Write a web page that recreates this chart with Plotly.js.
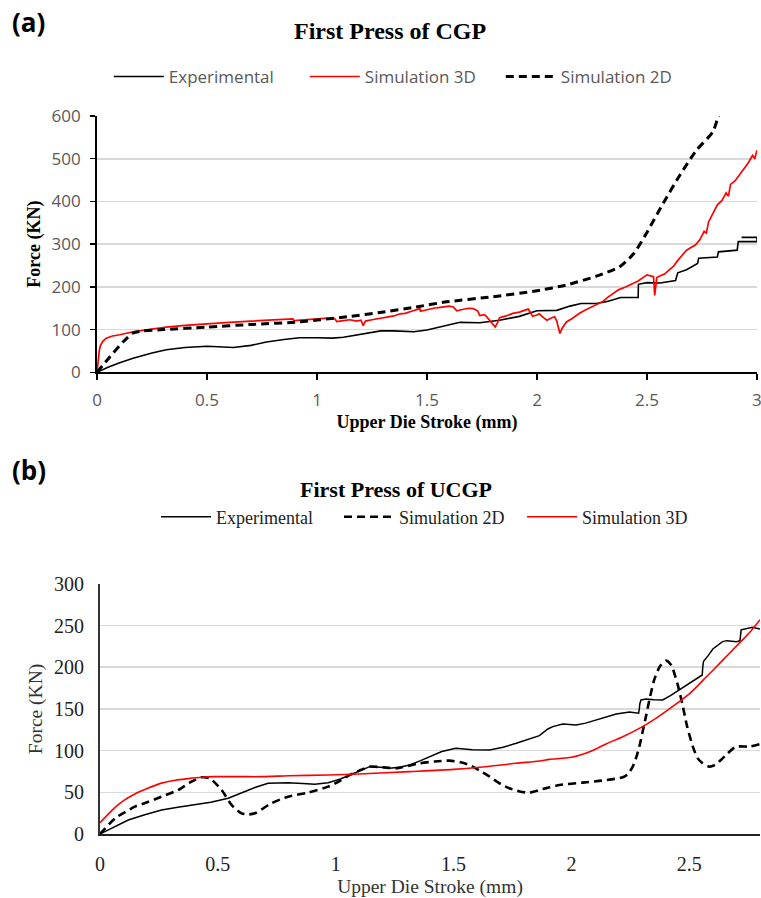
<!DOCTYPE html>
<html>
<head>
<meta charset="utf-8">
<script src="https://cdn.plot.ly/plotly-3.0.1.min.js"></script>
<style>
html,body{margin:0;padding:0;background:#fff;}
#chart{width:761px;height:898px;}
</style>
</head>
<body>
<div id="chart"></div>
<script>
// ---------- (a) First Press of CGP ----------
const aExpX = [0,0.05,0.1,0.164,0.25,0.315,0.4,0.5,0.55,0.62,0.7,0.77,0.85,0.92,1.0,1.07,1.12,1.2,1.29,1.35,1.44,1.5,1.57,1.65,1.74,1.83,1.92,2.0,2.09,2.15,2.2,2.27,2.32,2.38,2.46,2.461,2.5,2.56,2.63,2.64,2.68,2.73,2.735,2.82,2.825,2.91,2.915,3.0,3.0,2.93];
const aExpY = [0,12,22,33,45,53,58,61,60,58,63,71,77,81,81,80,82,89,97,97,95,99,108,117,116,122,131,144,145,155,161,161,166,175,175,206,210,209,215,233,240,255,267,270,282,286,306,306,316,316];

const aSim3dX = [0,0.005,0.01,0.015,0.025,0.042,0.07,0.103,0.164,0.25,0.315,0.4,0.5,0.6,0.7,0.77,0.85,0.89,0.895,0.95,1.0,1.05,1.08,1.09,1.12,1.15,1.18,1.2,1.21,1.22,1.25,1.286,1.32,1.35,1.377,1.4,1.43,1.468,1.47,1.5,1.53,1.56,1.6,1.62,1.635,1.66,1.69,1.71,1.73,1.74,1.76,1.77,1.79,1.81,1.82,1.83,1.86,1.89,1.92,1.94,1.96,1.97,1.98,2.0,2.01,2.03,2.045,2.065,2.08,2.09,2.104,2.115,2.134,2.16,2.18,2.195,2.22,2.24,2.27,2.3,2.32,2.346,2.37,2.4,2.42,2.44,2.46,2.5,2.52,2.53,2.535,2.54,2.545,2.56,2.58,2.6,2.62,2.64,2.66,2.68,2.7,2.72,2.74,2.76,2.77,2.78,2.8,2.82,2.84,2.86,2.87,2.88,2.9,2.92,2.94,2.96,2.98,2.99,3.0];
const aSim3dY = [0,30,50,62,72,80,85,88,95,101,106,110,114,117,120,122,124,125,121,123,125,127,126,119,121,123,120,122,109,120,123,126,128,132,137,138,143,149,143,147,150,152,155,153,144,147,150,149,144,133,135,131,118,106,115,128,132,138,141,144,148,140,131,134,137,128,122,127,130,120,91,104,118,126,134,139,146,151,157,166,175,185,193,199,204,210,214,228,226,224,180,205,222,226,230,239,248,262,273,286,292,298,310,330,326,352,372,392,402,420,412,440,448,462,478,490,508,500,520];

const aSim2dX = [0,0.058,0.118,0.164,0.21,0.3,0.5,0.7,0.92,1.014,1.15,1.286,1.45,1.59,1.8,2.0,2.13,2.27,2.376,2.44,2.497,2.574,2.65,2.725,2.8,2.825,2.85];
const aSim2dY = [0,36,71,92,97,100,106,112,118,123,131,140,153,165,177,191,204,225,247,278,325,396,462,520,563,600,625];

// ---------- (b) First Press of UCGP ----------
const bExpX = [0,0.06,0.12,0.19,0.261,0.33,0.403,0.47,0.544,0.615,0.66,0.713,0.798,0.86,0.911,0.968,1.02,1.06,1.1,1.144,1.19,1.229,1.27,1.314,1.36,1.398,1.45,1.51,1.58,1.653,1.71,1.766,1.82,1.864,1.9,1.921,1.963,2.02,2.06,2.105,2.15,2.19,2.246,2.285,2.288,2.29,2.295,2.316,2.35,2.387,2.42,2.458,2.51,2.555,2.557,2.56,2.58,2.6,2.641,2.66,2.7,2.715,2.72,2.768,2.8];
const bExpY = [0,8,16.8,23,28.8,32,34.8,38,42.8,50.8,56,60.8,61.6,60.5,59.6,61.6,66,70.8,76,80.8,80,78.8,80,82.8,88,92.8,99,102.8,101,100.8,104,108.8,114,118,126,128.8,132,130.8,133,136.8,141,144,146.4,145,150,156,160.8,162,161,160.8,166,172.8,182,190.8,200,206.8,214,222,230.8,232,230.8,232,245,248,246];

const bSim2dX = [0,0.064,0.148,0.2,0.261,0.332,0.388,0.431,0.466,0.516,0.558,0.6,0.63,0.657,0.727,0.798,0.883,0.968,1.02,1.06,1.1,1.144,1.2,1.257,1.356,1.42,1.483,1.53,1.568,1.61,1.653,1.7,1.737,1.78,1.822,1.864,1.907,1.95,2.048,2.13,2.218,2.24,2.26,2.275,2.288,2.3,2.316,2.33,2.351,2.375,2.401,2.42,2.43,2.45,2.47,2.49,2.515,2.535,2.557,2.585,2.61,2.634,2.66,2.698,2.754,2.8];
const bSim2dY = [0,18.8,32.8,38,44.8,52.8,62.8,68,66.8,52.8,34.8,24.8,23.5,24.8,36.8,44.8,49.6,56.8,64,70.8,76,80.8,80,78.8,84.8,87,88,86,82.8,76,68.8,60,54.8,51,49.6,52.8,56,58.8,61.6,64,68,72,80.8,92,104.8,120,140.8,160,184.8,201,208,204,198.4,180,156.8,130,104.8,91,84.8,80.8,83,88.8,96,104.8,104.8,108];

const bSim3dX = [0,0.064,0.1,0.148,0.2,0.261,0.32,0.374,0.43,0.487,0.6,0.685,0.8,0.968,1.1,1.314,1.5,1.61,1.766,1.864,1.907,2.0,2.08,2.147,2.22,2.29,2.36,2.43,2.5,2.571,2.64,2.712,2.76,2.8];
const bSim3dY = [13.6,32,40,48,54.5,61,64.5,66.4,68,68.8,68.8,68.8,69.8,70.8,72,74.8,77.5,80,84.8,87.5,89.5,92,99,108,117,127,139,153,168,188,208,229,243,257];

const serif = 'Liberation Serif, Times New Roman, serif';
const sans = 'Open Sans, sans-serif';

const traces = [
  {x:aExpX, y:aExpY, xaxis:'x', yaxis:'y', name:'Experimental', mode:'lines', line:{color:'#000', width:1.6}, legend:'legend'},
  {x:aSim3dX, y:aSim3dY, xaxis:'x', yaxis:'y', name:'Simulation 3D', mode:'lines', line:{color:'#ff0000', width:1.7}, legend:'legend'},
  {x:aSim2dX, y:aSim2dY, xaxis:'x', yaxis:'y', name:'Simulation 2D', mode:'lines', line:{color:'#000', width:3, dash:'8px,5px', shape:'spline', smoothing:0.6}, legend:'legend'},
  {x:bExpX, y:bExpY, xaxis:'x2', yaxis:'y2', name:'Experimental', mode:'lines', line:{color:'#000', width:1.5}, legend:'legend2'},
  {x:bSim2dX, y:bSim2dY, xaxis:'x2', yaxis:'y2', name:'Simulation 2D', mode:'lines', line:{color:'#000', width:2.6, dash:'8px,5px', shape:'spline', smoothing:0.6}, legend:'legend2'},
  {x:bSim3dX, y:bSim3dY, xaxis:'x2', yaxis:'y2', name:'Simulation 3D', mode:'lines', line:{color:'#ff0000', width:1.6, shape:'spline', smoothing:0.8}, legend:'legend2'}
];

const layout = {
  width:761, height:898,
  margin:{l:0,r:0,t:0,b:0},
  paper_bgcolor:'#fff', plot_bgcolor:'#fff',
  showlegend:true,
  xaxis:{domain:[0.1275,0.9947], range:[0,3], tick0:0, dtick:0.5, anchor:'y',
    showline:true, linecolor:'#000', linewidth:2, ticks:'outside', ticklen:6, tickwidth:1.5, tickcolor:'#000',
    showgrid:false, zeroline:false, automargin:false, ticklabelstandoff:5, ticklabeloverflow:'allow',
    tickfont:{family:sans, size:17, color:'#595959'},
    title:{text:'<b>Upper Die Stroke (mm)</b>', font:{family:serif, size:18, color:'#000'}, standoff:6}},
  yaxis:{domain:[0.5854,0.8708], range:[0,600], tick0:0, dtick:100, anchor:'x',
    showline:true, linecolor:'#000', linewidth:2, ticks:'outside', ticklen:5, tickwidth:1.5, tickcolor:'#000',
    showgrid:true, gridcolor:'#d9d9d9', gridwidth:1.6, zeroline:false, automargin:false, ticklabelstandoff:6,
    tickfont:{family:sans, size:17, color:'#595959'},
    title:{text:'<b>Force (KN)</b>', font:{family:serif, size:18, color:'#000'}, standoff:6}},
  xaxis2:{domain:[0.1314,0.9987], range:[0,2.8], tick0:0, dtick:0.5, anchor:'y2',
    showline:true, linecolor:'#222', linewidth:2, ticks:'',
    showgrid:false, zeroline:false, automargin:false, ticklabelstandoff:11,
    tickfont:{family:serif, size:20, color:'#222'},
    title:{text:'Upper Die Stroke (mm)', font:{family:serif, size:19.5, color:'#333'}, standoff:5}},
  yaxis2:{domain:[0.0713,0.3497], range:[0,300], tick0:0, dtick:50, anchor:'x2',
    showline:true, linecolor:'#333', linewidth:2, ticks:'',
    showgrid:true, gridcolor:'#d9d9d9', gridwidth:1.6, zeroline:false, automargin:false, ticklabelstandoff:10,
    tickfont:{family:serif, size:20, color:'#222'},
    title:{text:'Force (KN)', font:{family:serif, size:19.5, color:'#333'}, standoff:6}},
  legend:{orientation:'h', x:0.143, xanchor:'left', y:0.9143, yanchor:'middle',
    font:{family:sans, size:17, color:'#595959'}, itemwidth:50, entrywidth:131, bgcolor:'rgba(0,0,0,0)'},
  legend2:{orientation:'h', x:0.205, xanchor:'left', y:1-517/898, yanchor:'middle',
    font:{family:serif, size:18, color:'#222'}, itemwidth:50, entrywidth:118, bgcolor:'rgba(0,0,0,0)'},
  annotations:[
    {text:'<b>(a)</b>', x:10/761, y:1-22/898, xref:'paper', yref:'paper', xanchor:'left', yanchor:'middle', showarrow:false, font:{family:sans, size:26, color:'#000'}},
    {text:'<b>First Press of CGP</b>', x:390/761, y:1-31/898, xref:'paper', yref:'paper', xanchor:'center', yanchor:'middle', showarrow:false, font:{family:serif, size:24, color:'#000'}},
    {text:'<b>(b)</b>', x:10/761, y:1-470/898, xref:'paper', yref:'paper', xanchor:'left', yanchor:'middle', showarrow:false, font:{family:sans, size:26, color:'#000'}},
    {text:'<b>First Press of UCGP</b>', x:396/761, y:1-490/898, xref:'paper', yref:'paper', xanchor:'center', yanchor:'middle', showarrow:false, font:{family:serif, size:22, color:'#000'}}
  ]
};

Plotly.newPlot('chart', traces, layout, {staticPlot:true, displayModeBar:false});
</script>
</body>
</html>
